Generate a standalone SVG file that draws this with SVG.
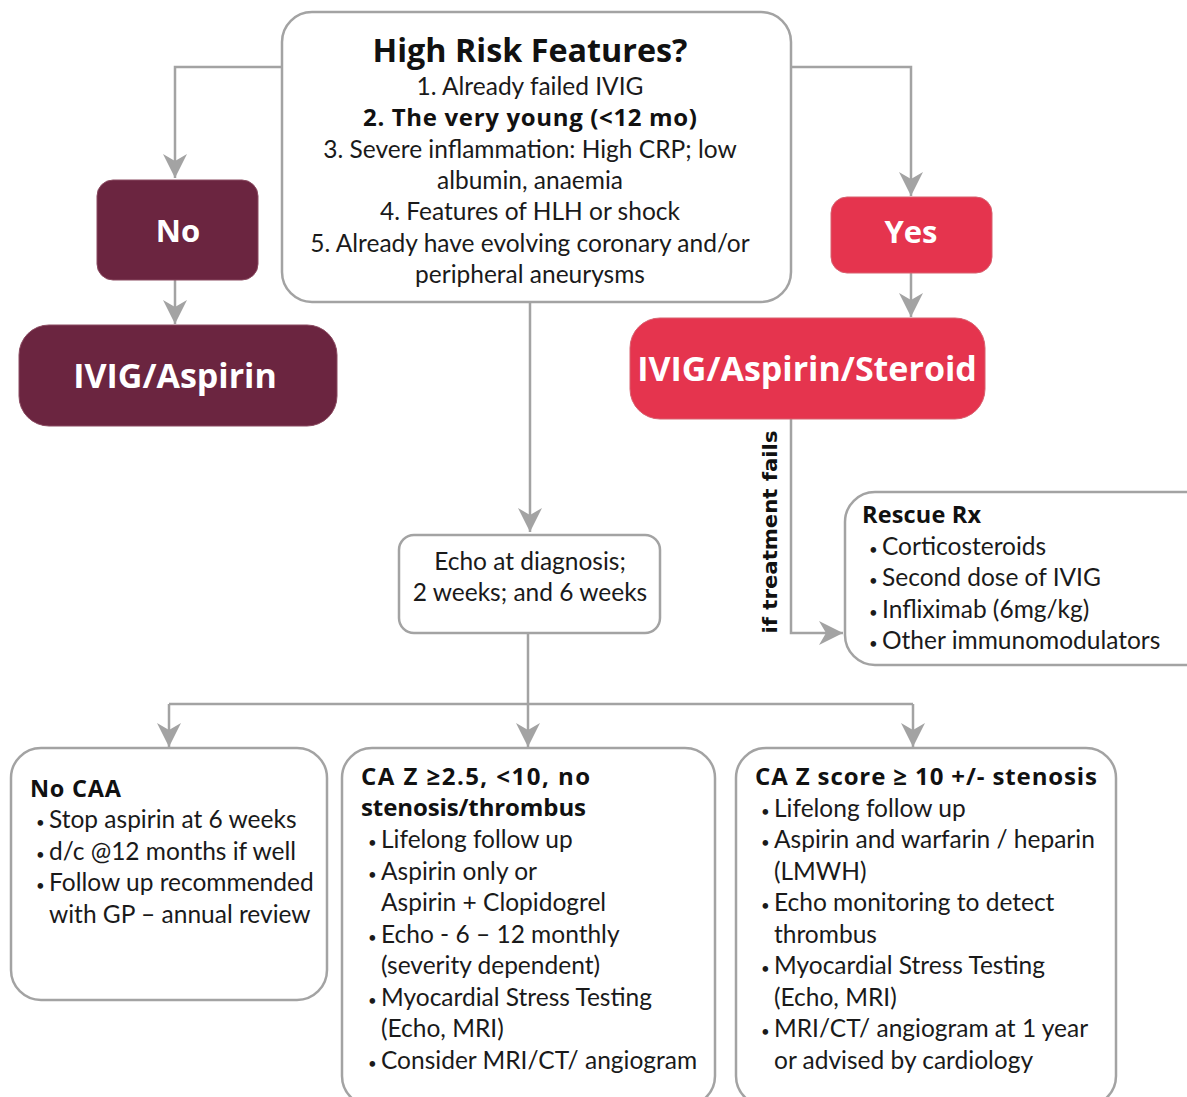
<svg xmlns="http://www.w3.org/2000/svg" width="1187" height="1097" viewBox="0 0 1187 1097">
<defs>
<marker id="arr" viewBox="0 0 24 24" refX="24" refY="12" markerWidth="24" markerHeight="24" markerUnits="userSpaceOnUse" orient="auto">
<path d="M0,0 L24,12 L0,24 L7,12 z" fill="#a3a3a3"/>
</marker>
<style>
.box{fill:#fff;stroke:#a3a3a3;stroke-width:2.5}
.maroon{fill:#6b2540;stroke:#8a4a60;stroke-width:1}
.red{fill:#e5344e;stroke:#d8606f;stroke-width:1}
.t{font-family:Lato,"Open Sans",sans-serif;font-size:24.5px;fill:#1a1a1a}
.b{font-family:"Open Sans",Lato,sans-serif;font-weight:bold;fill:#111}
.w{font-family:"Open Sans",Lato,sans-serif;font-weight:bold;fill:#fff}
.c{text-anchor:middle}
.bu{font-size:15px}
.ln{fill:none;stroke:#a3a3a3;stroke-width:2.5}
.v{font-family:"DejaVu Sans",sans-serif;font-weight:bold;font-size:20px;fill:#111;text-anchor:middle}
</style>
</defs>
<rect width="1187" height="1097" fill="#fff"/>
<g id="connectors">
<path class="ln" d="M282,67 H175 V178" marker-end="url(#arr)"/>
<path class="ln" d="M175,280 V324" marker-end="url(#arr)"/>
<path class="ln" d="M791,67 H911 V196" marker-end="url(#arr)"/>
<path class="ln" d="M911,273 V317" marker-end="url(#arr)"/>
<path class="ln" d="M530,302 V532" marker-end="url(#arr)"/>
<path class="ln" d="M791,419 V633 H843" marker-end="url(#arr)"/>
<path class="ln" d="M528,633 V704"/>
<path class="ln" d="M169,704 H913"/>
<path class="ln" d="M169,704 V747" marker-end="url(#arr)"/>
<path class="ln" d="M528,704 V747" marker-end="url(#arr)"/>
<path class="ln" d="M913,704 V747" marker-end="url(#arr)"/>
<text class="v" x="770" y="532" transform="rotate(-90 770 532)" dy="7" textLength="203" lengthAdjust="spacingAndGlyphs">if treatment fails</text>
</g>
<g id="high-risk">
<rect class="box" x="282" y="12" width="509" height="290" rx="30"/>
<text class="b c" x="530" y="62" font-size="32" textLength="315" lengthAdjust="spacingAndGlyphs">High Risk Features?</text>
<text class="t c" x="530" y="95">1. Already failed IVIG</text>
<text class="b c" x="530" y="126" font-size="24" textLength="334">2. The very young (&lt;12 mo)</text>
<text class="t c" x="530" y="158">3. Severe inflammation: High CRP; low</text>
<text class="t c" x="530" y="189">albumin, anaemia</text>
<text class="t c" x="530" y="220">4. Features of HLH or shock</text>
<text class="t c" x="530" y="252">5. Already have evolving coronary and/or</text>
<text class="t c" x="530" y="283">peripheral aneurysms</text>
</g>
<g id="no">
<rect class="maroon" x="97" y="180" width="161" height="100" rx="16"/>
<text class="w c" x="178" y="242" font-size="31">No</text>
</g>
<g id="ivig-aspirin">
<rect class="maroon" x="19" y="325" width="318" height="101" rx="30"/>
<text class="w c" x="175" y="388" font-size="34">IVIG/Aspirin</text>
</g>
<g id="yes">
<rect class="red" x="831" y="197" width="161" height="76" rx="16"/>
<text class="w c" x="911" y="243" font-size="31">Yes</text>
</g>
<g id="ivig-aspirin-steroid">
<rect class="red" x="630" y="318" width="355" height="101" rx="30"/>
<text class="w c" x="807" y="381" font-size="34">IVIG/Aspirin/Steroid</text>
</g>
<g id="echo">
<rect class="box" x="399" y="535" width="261" height="98" rx="15"/>
<text class="t c" x="530" y="570">Echo at diagnosis;</text>
<text class="t c" x="530" y="601">2 weeks; and 6 weeks</text>
</g>
<g id="rescue">
<rect class="box" x="845" y="492" width="370" height="173" rx="30"/>
<text class="b" x="862" y="523" font-size="23.5" textLength="119">Rescue Rx</text>
<text class="t" y="555"><tspan class="bu" x="869">•</tspan><tspan x="882">Corticosteroids</tspan></text>
<text class="t" y="586"><tspan class="bu" x="869">•</tspan><tspan x="882">Second dose of IVIG</tspan></text>
<text class="t" y="618"><tspan class="bu" x="869">•</tspan><tspan x="882">Infliximab (6mg/kg)</tspan></text>
<text class="t" y="649"><tspan class="bu" x="869">•</tspan><tspan x="882">Other immunomodulators</tspan></text>
</g>
<g id="no-caa">
<rect class="box" x="11" y="748" width="316" height="252" rx="30"/>
<text class="b" x="30" y="797" font-size="23.5" textLength="91">No CAA</text>
<text class="t" y="828"><tspan class="bu" x="36">•</tspan><tspan x="49">Stop aspirin at 6 weeks</tspan></text>
<text class="t" y="860"><tspan class="bu" x="36">•</tspan><tspan x="49">d/c @12 months if well</tspan></text>
<text class="t" y="891"><tspan class="bu" x="36">•</tspan><tspan x="49">Follow up recommended</tspan></text>
<text class="t" x="49" y="923">with GP – annual review</text>
</g>
<g id="ca-z-mid">
<rect class="box" x="342" y="748" width="373" height="358" rx="30"/>
<text class="b" x="361" y="785" font-size="24" textLength="229">CA Z ≥2.5, &lt;10, no</text>
<text class="b" x="361" y="816" font-size="24" textLength="225">stenosis/thrombus</text>
<text class="t" y="848"><tspan class="bu" x="368">•</tspan><tspan x="381">Lifelong follow up</tspan></text>
<text class="t" y="880"><tspan class="bu" x="368">•</tspan><tspan x="381">Aspirin only or</tspan></text>
<text class="t" x="381" y="911">Aspirin + Clopidogrel</text>
<text class="t" y="943"><tspan class="bu" x="368">•</tspan><tspan x="381">Echo - 6 – 12 monthly</tspan></text>
<text class="t" x="381" y="974">(severity dependent)</text>
<text class="t" y="1006"><tspan class="bu" x="368">•</tspan><tspan x="381">Myocardial Stress Testing</tspan></text>
<text class="t" x="381" y="1037">(Echo, MRI)</text>
<text class="t" y="1069"><tspan class="bu" x="368">•</tspan><tspan x="381">Consider MRI/CT/ angiogram</tspan></text>
</g>
<g id="ca-z-high">
<rect class="box" x="736" y="748" width="380" height="358" rx="30"/>
<text class="b" x="755" y="785" font-size="24" textLength="342">CA Z score ≥ 10 +/- stenosis</text>
<text class="t" y="817"><tspan class="bu" x="761">•</tspan><tspan x="774">Lifelong follow up</tspan></text>
<text class="t" y="848"><tspan class="bu" x="761">•</tspan><tspan x="774">Aspirin and warfarin / heparin</tspan></text>
<text class="t" x="774" y="880">(LMWH)</text>
<text class="t" y="911"><tspan class="bu" x="761">•</tspan><tspan x="774">Echo monitoring to detect</tspan></text>
<text class="t" x="774" y="943">thrombus</text>
<text class="t" y="974"><tspan class="bu" x="761">•</tspan><tspan x="774">Myocardial Stress Testing</tspan></text>
<text class="t" x="774" y="1006">(Echo, MRI)</text>
<text class="t" y="1037"><tspan class="bu" x="761">•</tspan><tspan x="774">MRI/CT/ angiogram at 1 year</tspan></text>
<text class="t" x="774" y="1069">or advised by cardiology</text>
</g>
</svg>
